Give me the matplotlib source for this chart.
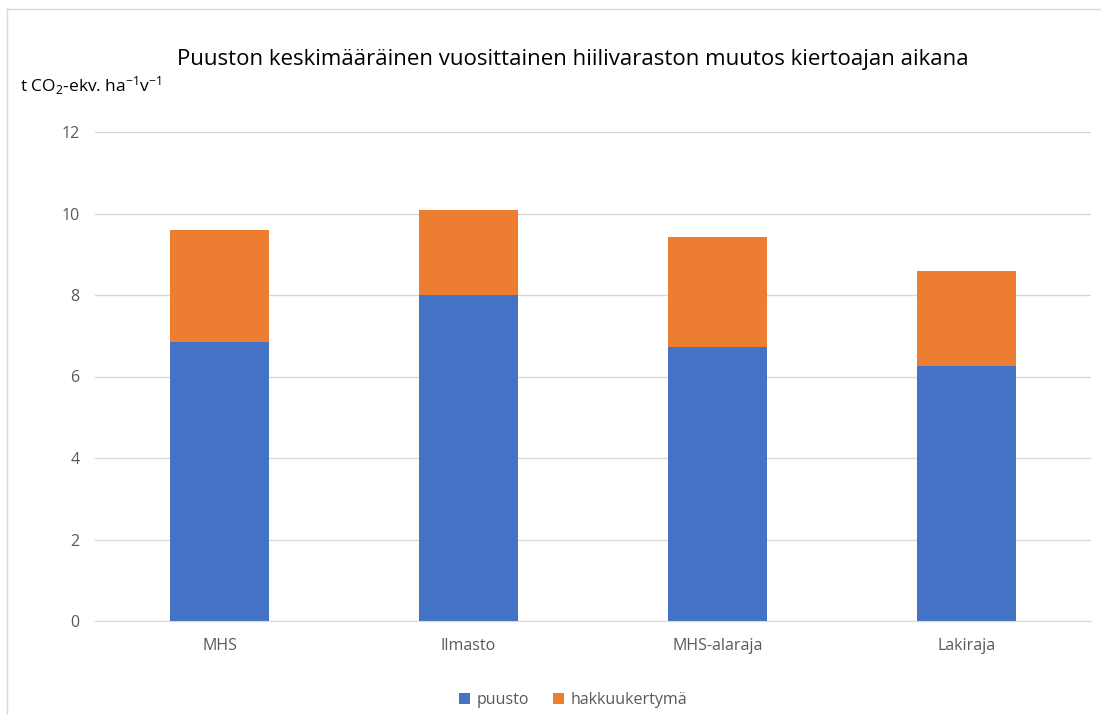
import matplotlib; matplotlib.use('Agg')
import numpy as np
from matplotlib import pyplot as plt
from matplotlib.lines import Line2D

plt.rcParams.update({
    'font.family': ['Open Sans', 'DejaVu Sans'],
    'mathtext.fontset': 'custom',
    'mathtext.rm': 'Open Sans',
    'mathtext.default': 'regular',
})

categories = ['MHS', 'Ilmasto', 'MHS-alaraja', 'Lakiraja']
puusto = [6.85, 8.0, 6.72, 6.26]
hakkuukertyma = [2.74, 2.09, 2.70, 2.33]
yticks = [0, 2, 4, 6, 8, 10, 12]

BLUE = '#4472C4'
ORANGE = '#ED7D31'
GRAY = '#595959'

fig = plt.figure(figsize=(11.01, 7.15), dpi=100)
ax = fig.add_axes([95/1101, 1 - 621/715, 996/1101, 489/715])

x = np.arange(len(categories))
ax.bar(x, puusto, width=0.4, color=BLUE, label='puusto', zorder=3)
ax.bar(x, hakkuukertyma, width=0.4, bottom=puusto, color=ORANGE,
       label='hakkuukertymä', zorder=3)

ax.set_xlim(-0.5, len(categories) - 0.5)
ax.set_ylim(0, 12)
ax.set_yticks(yticks)
ax.set_yticklabels([str(t) for t in yticks])
ax.set_xticks(x)
ax.set_xticklabels(categories)
ax.tick_params(axis='both', length=0, colors=GRAY, labelsize=11.5)
ax.tick_params(axis='y', pad=11)
ax.tick_params(axis='x', pad=12)
ax.grid(axis='y', color='#d9d9d9', linewidth=1, zorder=0)
for s in ['top', 'right', 'left']:
    ax.spines[s].set_visible(False)
ax.spines['bottom'].set_color('#d9d9d9')
ax.spines['bottom'].set_zorder(4)

fig.text(573/1101, 1 - 60/715, 'Puuston keskimääräinen vuosittainen hiilivaraston muutos kiertoajan aikana',
         ha='center', va='center', fontsize=16, color='#000000')
fig.text(20/1101, 1 - 86/715, r't CO$_2$-ekv. ha$^{-1}$v$^{-1}$',
         ha='left', va='center', fontsize=12.5, color='#000000')

fig.legend(loc='center', bbox_to_anchor=(573/1101, 1 - 700/715), ncol=2,
           frameon=False, fontsize=11.5, handlelength=0.7, handleheight=0.7,
           handletextpad=0.4, columnspacing=1.5, labelcolor=GRAY)

# chart border
fig.add_artist(Line2D([7/1101, 1], [1 - 9/715, 1 - 9/715], color='#d9d9d9', lw=1))
fig.add_artist(Line2D([7/1101, 7/1101], [0, 1 - 9/715], color='#d9d9d9', lw=1))

fig.savefig('out.png', dpi=100)
plt.close()
